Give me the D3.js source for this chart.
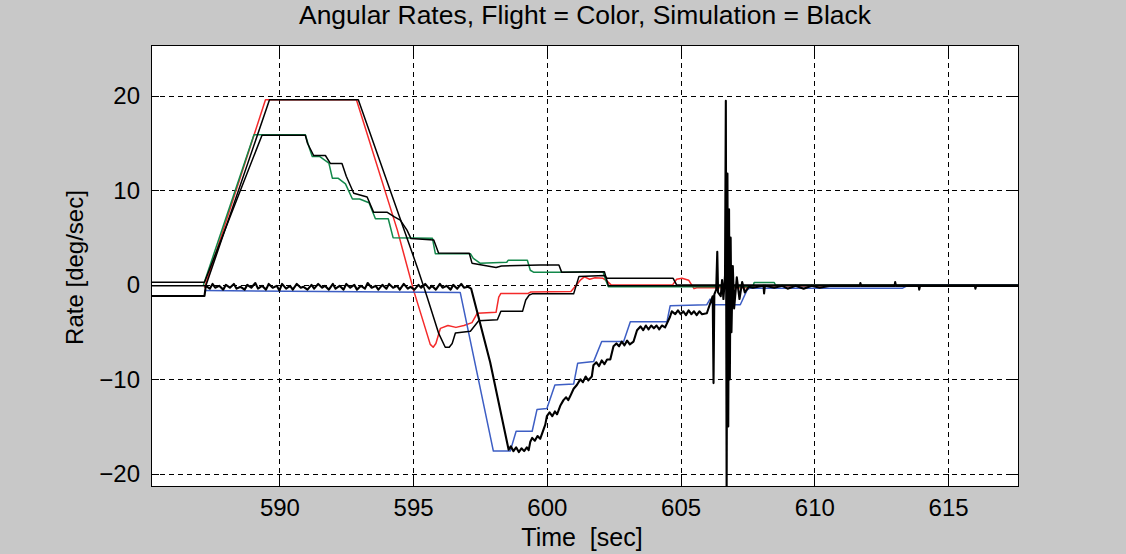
<!DOCTYPE html>
<html>
<head>
<meta charset="utf-8">
<script src="https://cdn.jsdelivr.net/npm/d3@7"></script>
<style>
  html, body { margin: 0; padding: 0; background: #c8c8c8; }
  svg { display: block; }
  text { font-family: "Liberation Sans", Arial, sans-serif; fill: #000; }
</style>
</head>
<body>
<script>
// ---------------- data ----------------
const titleText = "Angular Rates, Flight = Color, Simulation = Black";
const xLabelText = "Time  [sec]";
const yLabelText = "Rate [deg/sec]";
const xDomain = [585.2, 617.65];
const yDomain = [-21.4, 25.4];
const xTicks = [590, 595, 600, 605, 610, 615];
const yTicks = [-20, -10, 0, 10, 20];

// Flight (colour) traces: [time, rate]
const redFlight = [[587.2,-0.3],[589.48,19.6],[592.88,19.6],[594.41,5.8],[595.01,-0.5],[595.64,-6.3],[595.75,-6.6],[595.85,-6.2],[596.02,-4.6],[596.3,-4.3],[596.6,-4.5],[596.9,-4.3],[597.2,-4.0],[597.4,-3.0],[598.1,-2.9],[598.2,-1.3],[598.28,-0.9],[599.3,-0.9],[599.4,-0.75],[600.9,-0.7],[601.25,0.5],[601.4,0.85],[601.6,0.6],[601.8,0.75],[602.1,0.7],[602.25,0.4],[602.4,0.0],[604.7,0.0],[604.85,0.6],[605.05,0.7],[605.3,0.5],[605.5,-0.4],[605.6,-0.3],[607.5,-0.3],[607.8,-0.1],[617.5,-0.1]];
const greenFlight = [[587.16,0.0],[589.05,15.9],[590.97,15.9],[591.12,14.5],[591.23,13.6],[591.5,13.6],[591.85,12.9],[591.98,11.3],[592.19,11.3],[592.47,10.7],[592.73,9.1],[593.0,9.1],[593.35,8.7],[593.59,7.0],[594.07,7.0],[594.25,5.0],[595.72,4.95],[595.83,3.3],[597.14,3.3],[597.25,2.8],[597.5,2.3],[598.5,2.4],[598.55,2.6],[599.27,2.6],[599.38,1.55],[599.5,1.35],[600.58,1.35],[602.1,1.4],[602.2,0.5],[602.3,-0.2],[607.7,-0.2],[607.75,0.25],[608.5,0.25],[608.55,-0.05],[617.6,-0.05]];
const blueFlight = [[587.2,-0.6],[596.76,-0.8],[598.0,-17.6],[598.63,-17.6],[598.85,-15.5],[599.45,-15.5],[599.63,-13.2],[600.0,-13.1],[600.3,-10.6],[601.0,-10.5],[601.15,-8.3],[601.75,-8.1],[602.05,-6.0],[602.87,-6.0],[603.12,-3.9],[604.49,-3.9],[604.61,-2.2],[605.98,-2.1],[606.1,-1.5],[606.2,-2.1],[607.23,-2.1],[607.49,-0.5],[607.6,-0.35],[613.3,-0.35],[613.5,-0.05],[617.6,-0.05]];

// Simulation (black) traces: [time, rate]
const simRed = [[585.2,-0.1],[587.25,-0.1],[589.63,19.6],[592.95,19.6],[595.15,1.9],[595.52,-1.25],[595.95,-5.1],[596.2,-6.6],[596.35,-6.6],[596.46,-6.2],[596.58,-5.1],[597.14,-4.9],[597.45,-3.8],[598.15,-3.7],[598.28,-2.8],[599.09,-2.8],[599.21,-1.6],[599.34,-1.07],[599.45,-0.95],[601.0,-0.95],[601.2,0.9],[602.15,1.0],[602.25,0.7],[604.72,0.7],[604.85,0.0],[617.65,0.0]];
const simGreen = [[585.2,0.28],[587.2,0.28],[589.35,15.85],[590.97,15.85],[591.05,15.0],[591.28,13.7],[591.72,13.7],[591.91,12.85],[592.34,12.85],[592.5,11.5],[592.78,9.7],[593.28,9.3],[593.52,7.7],[594.02,7.7],[594.3,7.2],[594.52,6.86],[594.77,5.8],[594.92,4.9],[595.77,4.75],[595.95,3.37],[597.1,3.34],[597.2,2.3],[598.1,1.85],[598.3,2.0],[599.75,2.1],[600.45,2.1],[600.55,1.35],[602.15,1.4],[602.3,-0.1],[617.65,-0.1]];
const simBlue = [[585.2,-1.17],[587.2,-1.17],[587.25,-0.1],[587.4,-0.4],[587.5,0.1],[587.6,-0.3],[587.75,-0.1],[587.9,-0.5],[588.0,0.0],[588.15,-0.3],[588.3,0.1],[588.4,-0.4],[588.55,-0.2],[588.7,-0.5],[588.8,0.0],[588.95,-0.3],[589.1,0.2],[589.2,-0.4],[589.35,-0.1],[589.5,-0.5],[589.6,0.1],[589.75,-0.3],[589.9,-0.1],[590.0,-0.6],[590.1,0.1],[590.25,-0.4],[590.4,-0.1],[590.5,-0.5],[590.65,0.1],[590.8,-0.3],[590.9,-0.2],[591.05,-0.5],[591.2,0.0],[591.3,-0.4],[591.45,0.1],[591.6,-0.3],[591.7,-0.1],[591.85,-0.5],[592.0,0.1],[592.1,-0.4],[592.25,-0.1],[592.4,-0.5],[592.5,0.1],[592.65,-0.3],[592.8,0.0],[592.9,-0.5],[593.05,-0.1],[593.2,-0.4],[593.3,0.2],[593.45,-0.3],[593.6,-0.1],[593.7,-0.5],[593.85,0.0],[594.0,-0.4],[594.1,0.1],[594.25,-0.3],[594.4,-0.1],[594.5,-0.5],[594.65,0.1],[594.8,-0.4],[594.9,-0.2],[595.05,-0.5],[595.2,0.0],[595.3,-0.3],[595.45,0.1],[595.6,-0.4],[595.7,-0.1],[595.85,-0.5],[596.0,0.1],[596.1,-0.3],[596.25,-0.1],[596.4,-0.5],[596.5,0.0],[596.65,-0.4],[596.8,0.1],[596.9,-0.3],[597.05,-0.2],[597.17,-0.4],[597.88,-8.2],[598.57,-17.45],[598.65,-17.1],[598.75,-17.6],[598.85,-17.2],[598.95,-17.7],[599.05,-17.3],[599.15,-17.6],[599.25,-17.2],[599.32,-17.5],[599.38,-16.6],[599.45,-16.2],[599.55,-16.5],[599.65,-16.0],[599.75,-16.3],[599.85,-15.5],[599.94,-14.8],[600.0,-13.9],[600.1,-13.5],[600.2,-13.9],[600.3,-13.4],[600.38,-13.7],[600.5,-12.8],[600.62,-12.2],[600.72,-11.9],[600.8,-12.2],[600.87,-11.8],[601.0,-11.0],[601.12,-10.6],[601.25,-10.0],[601.35,-10.3],[601.45,-9.7],[601.55,-10.1],[601.68,-9.7],[601.74,-8.5],[601.85,-8.2],[601.95,-8.6],[602.05,-8.0],[602.15,-8.4],[602.25,-7.9],[602.37,-7.9],[602.49,-6.5],[602.6,-6.2],[602.7,-6.5],[602.8,-6.0],[602.9,-6.4],[603.0,-5.9],[603.1,-6.3],[603.24,-6.0],[603.37,-4.8],[603.5,-4.4],[603.6,-4.8],[603.7,-4.3],[603.8,-4.7],[603.9,-4.3],[604.0,-4.6],[604.1,-4.3],[604.2,-4.7],[604.3,-4.3],[604.42,-4.5],[604.6,-3.4],[604.67,-2.8],[604.8,-3.1],[604.9,-2.7],[605.0,-3.1],[605.1,-2.8],[605.2,-3.2],[605.3,-2.7],[605.4,-3.1],[605.5,-2.8],[605.6,-3.2],[605.7,-2.8],[605.8,-3.1],[605.98,-3.0],[606.1,-2.0],[606.2,-1.2],[606.23,-10.4],[606.26,-1.0],[606.33,-0.5],[606.37,3.5],[606.4,-0.8],[606.5,-1.2],[606.55,0.5],[606.6,-1.5],[606.66,1.0],[606.69,19.5],[606.72,-22.0],[606.75,11.8],[606.78,-15.0],[606.81,8.0],[606.84,-10.0],[606.87,5.0],[606.9,-5.0],[606.95,2.0],[607.0,-2.5],[607.1,0.8],[607.2,-1.5],[607.3,0.3],[607.4,-0.8],[607.55,-0.2],[607.7,-0.3],[608.1,-0.1],[608.12,-0.9],[608.15,-0.1],[608.5,-0.3],[608.8,-0.1],[609.0,-0.4],[609.3,-0.1],[609.6,-0.4],[609.9,-0.1],[610.2,-0.3],[610.6,-0.1],[611.7,-0.1],[611.72,0.2],[611.75,-0.1],[613.0,-0.1],[613.02,0.3],[613.05,-0.1],[613.9,-0.1],[613.92,-0.5],[613.95,-0.1],[616.0,-0.1],[616.02,-0.4],[616.05,-0.1],[617.65,-0.1]];

// ---------------- chart ----------------
const W = 1126, H = 554;
const plot = { left: 151, right: 1019, top: 45, bottom: 487 };

const svg = d3.select("body").append("svg").attr("width", W).attr("height", H);
svg.append("rect").attr("width", W).attr("height", H).attr("fill", "#c8c8c8");

const x = d3.scaleLinear().domain(xDomain).range([plot.left, plot.right]);
const y = d3.scaleLinear().domain(yDomain).range([plot.bottom, plot.top]);

svg.append("rect")
  .attr("x", plot.left).attr("y", plot.top)
  .attr("width", plot.right - plot.left).attr("height", plot.bottom - plot.top)
  .attr("fill", "#ffffff");

svg.append("defs").append("clipPath").attr("id", "clip")
  .append("rect")
  .attr("x", plot.left).attr("y", plot.top)
  .attr("width", plot.right - plot.left).attr("height", plot.bottom - plot.top);

// grid
const grid = svg.append("g").attr("stroke", "#000").attr("stroke-width", 1)
  .attr("stroke-dasharray", "5,4").attr("shape-rendering", "crispEdges");
grid.selectAll("line.gx").data(xTicks).join("line")
  .attr("x1", d => Math.round(x(d)) + 0.5).attr("x2", d => Math.round(x(d)) + 0.5)
  .attr("y1", plot.top).attr("y2", plot.bottom);
grid.selectAll("line.gy").data(yTicks).join("line")
  .attr("y1", d => Math.round(y(d)) + 0.5).attr("y2", d => Math.round(y(d)) + 0.5)
  .attr("x1", plot.left).attr("x2", plot.right);

// lines
const line = d3.line().x(d => x(d[0])).y(d => y(d[1]));
const dataG = svg.append("g").attr("clip-path", "url(#clip)").attr("fill", "none")
  .attr("stroke-linejoin", "round");
const series = [
  { data: redFlight, color: "#f42a2a", w: 1.5 },
  { data: greenFlight, color: "#12884a", w: 1.5 },
  { data: blueFlight, color: "#3d5ec4", w: 1.5 },
  { data: simRed, color: "#000000", w: 1.5 },
  { data: simGreen, color: "#000000", w: 1.5 },
  { data: simBlue, color: "#000000", w: 2.1 }
];
series.forEach(s => {
  dataG.append("path").datum(s.data)
    .attr("d", line).attr("stroke", s.color).attr("stroke-width", s.w);
});

// axes
const fontTick = "24px";
const xAxis = svg.append("g").attr("transform", `translate(0,${plot.bottom})`)
  .call(d3.axisBottom(x).tickValues(xTicks).tickSize(-13).tickPadding(12).tickFormat(d3.format("d")));
const yAxis = svg.append("g").attr("transform", `translate(${plot.left},0)`)
  .call(d3.axisLeft(y).tickValues(yTicks).tickSize(-8).tickPadding(11).tickFormat(d3.format("d")));
const xTop = svg.append("g").attr("transform", `translate(0,${plot.top})`)
  .call(d3.axisTop(x).tickValues(xTicks).tickSize(-13).tickFormat(""));
const yRight = svg.append("g").attr("transform", `translate(${plot.right},0)`)
  .call(d3.axisRight(y).tickValues(yTicks).tickSize(-8).tickFormat(""));

[xAxis, yAxis, xTop, yRight].forEach(g => {
  g.select(".domain").remove();
  g.selectAll(".tick line").attr("stroke", "#000").attr("stroke-width", 1).attr("shape-rendering", "crispEdges");
  g.selectAll(".tick text").attr("font-size", fontTick)
    .attr("font-family", "'Liberation Sans', Arial, sans-serif").attr("fill", "#000");
});

// box
svg.append("rect")
  .attr("x", plot.left + 0.5).attr("y", plot.top + 0.5)
  .attr("width", plot.right - plot.left - 1).attr("height", plot.bottom - plot.top - 1)
  .attr("fill", "none").attr("stroke", "#000").attr("stroke-width", 1)
  .attr("shape-rendering", "crispEdges");

// title and labels
svg.append("text").attr("x", (plot.left + plot.right) / 2).attr("y", 24)
  .attr("text-anchor", "middle").attr("font-size", "26px")
  .attr("textLength", 572).attr("lengthAdjust", "spacingAndGlyphs")
  .text(titleText);
svg.append("text").attr("x", (plot.left + plot.right) / 2 - 3).attr("y", 546)
  .attr("text-anchor", "middle").attr("font-size", "25px")
  .style("white-space", "pre")
  .text(xLabelText);
svg.append("text").attr("transform", `translate(83,267.5) rotate(-90)`)
  .attr("text-anchor", "middle").attr("font-size", "24px")
  .text(yLabelText);
</script>
</body>
</html>
